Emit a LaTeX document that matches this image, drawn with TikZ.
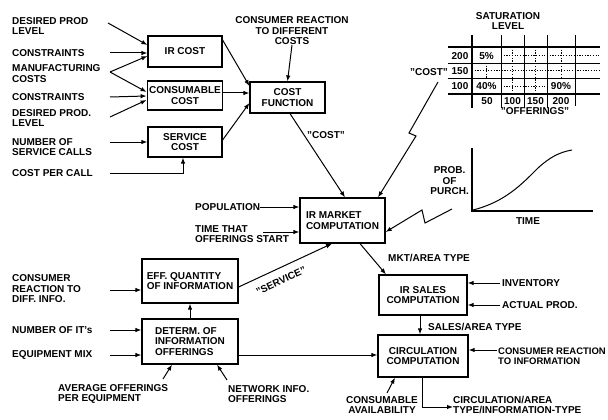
\documentclass[tikz,border=0pt]{standalone}
\usepackage{fontspec}
\setmainfont{Liberation Sans}
\usetikzlibrary{arrows.meta}
\begin{document}
\begin{tikzpicture}[x=1pt,y=-1pt,
  lbl/.style={font=\bfseries\fontsize{10}{10.5}\selectfont, inner sep=0pt, align=left},
  clbl/.style={lbl, align=center},
  box/.style={draw, line width=1.2pt, font=\bfseries\fontsize{10}{10.5}\selectfont, align=center, inner sep=2pt},
  lbox/.style={box, align=left},
  arr/.style={line width=1pt, -{Latex[length=6pt,width=4.5pt]}},
  ln/.style={line width=1pt},
  thick line/.style={line width=1.4pt},
  thin line/.style={line width=0.7pt},
  dots/.style={line width=0.6pt, dash pattern=on 1.2pt off 1.5pt}]
\useasboundingbox (0,0) rectangle (608,420);

% ---------- boxes ----------
\node[box, minimum width=74pt, minimum height=31pt] (ircost) at (185,51.5) {IR COST};
\node[box, minimum width=74pt, minimum height=29pt] (conscost) at (185,95.5) {CONSUMABLE\\COST};
\node[box, minimum width=74pt, minimum height=30pt] (servcost) at (185,142) {SERVICE\\COST};
\node[box, minimum width=75pt, minimum height=31pt] (costfn) at (287.5,97.5) {COST\\FUNCTION};
\node[lbox, minimum width=85pt, minimum height=45pt] (irmkt) at (342.5,220.5) {IR MARKET\\COMPUTATION};
\node[lbox, minimum width=96pt, minimum height=44pt] (effq) at (190,281) {EFF. QUANTITY\\OF INFORMATION};
\node[lbox, minimum width=96pt, minimum height=45pt] (determ) at (190,341.5) {DETERM. OF\\INFORMATION\\OFFERINGS};
\node[box, minimum width=88pt, minimum height=40pt] (irsales) at (423,295) {IR SALES\\COMPUTATION};
\node[box, minimum width=90pt, minimum height=42pt] (circ) at (423,356) {CIRCULATION\\COMPUTATION};

% ---------- input labels ----------
\node[lbl, anchor=west] (t1) at (12,26) {DESIRED PROD\\LEVEL};
\node[lbl, anchor=west] (t2) at (12,53) {CONSTRAINTS};
\node[lbl, anchor=west] (t3) at (12,73.5) {MANUFACTURING\\COSTS};
\node[lbl, anchor=west] (t4) at (12,97) {CONSTRAINTS};
\node[lbl, anchor=west] (t5) at (12,118) {DESIRED PROD.\\LEVEL};
\node[lbl, anchor=west] (t6) at (12,147) {NUMBER OF\\SERVICE CALLS};
\node[lbl, anchor=west] (t7) at (12,173) {COST PER CALL};
\node[clbl, anchor=south] (crc) at (292,45) {CONSUMER REACTION\\TO DIFFERENT\\COSTS};
\node[lbl, anchor=west] (pop) at (195,207) {POPULATION};
\node[lbl, anchor=west] (time) at (195,234) {TIME THAT\\OFFERINGS START};
\node[lbl, anchor=west] (cri) at (12,289) {CONSUMER\\REACTION TO\\DIFF. INFO.};
\node[lbl, anchor=west] (nit) at (12,330) {NUMBER OF IT's};
\node[lbl, anchor=west] (emix) at (12,355) {EQUIPMENT MIX};
\node[lbl, anchor=west] (avg) at (58,394) {AVERAGE OFFERINGS\\PER EQUIPMENT};
\node[lbl, anchor=west] (net) at (228,394) {NETWORK INFO.\\OFFERINGS};
\node[lbl, anchor=west] (mkt) at (388,258) {MKT/AREA TYPE};
\node[lbl, anchor=west] (inv) at (502,283) {INVENTORY};
\node[lbl, anchor=west] (act) at (502,305) {ACTUAL PROD.};
\node[lbl, anchor=west] (sales) at (428,327) {SALES/AREA TYPE};
\node[lbl, anchor=west, font=\bfseries\fontsize{9.5}{10.5}\selectfont] (crinfo) at (498,356) {CONSUMER REACTION\\TO INFORMATION};
\node[clbl] (cav) at (382,405) {CONSUMABLE\\AVAILABILITY};
\node[lbl, anchor=west] (out) at (453,405) {CIRCULATION/AREA\\TYPE/INFORMATION-TYPE};
\node[lbl] (costq) at (326,135) {"COST"};
\node[lbl, rotate=25] (servq) at (281,281) {"SERVICE"};

% ---------- start coordinates ----------
\coordinate (s1) at (108,23);
\coordinate (s2) at (110,53);
\coordinate (s3) at (110,72);
\coordinate (s4) at (110,97);
\coordinate (s5) at (110,117);
\coordinate (s6) at (110,142);
\coordinate (s7) at (110,173);
\coordinate (s8) at (263,232);
\coordinate (s9) at (110,290);
\coordinate (s10) at (110,330);
\coordinate (s11) at (110,355);
\coordinate (s12) at (163,379);
\coordinate (s13) at (227,380);
\coordinate (s14) at (500,283);
\coordinate (s15) at (500,305);
\coordinate (s16) at (497,350);
\coordinate (s17) at (387,393);
\coordinate (z1) at (438,82);
\coordinate (z2) at (452,209);

% ---------- connectors ----------
\draw[arr] (s1) -- (ircost.west |- 0,45);
\draw[arr] (s2) -- (ircost.west |- 0,53);
\draw[arr] (s3) -- (ircost.west |- 0,56);
\draw[arr] (s3) -- (conscost.west |- 0,92);
\draw[arr] (s4) -- (conscost.west |- 0,96);
\draw[arr] (s5) -- (conscost.west |- 0,100);
\draw[arr] (s6) -- (servcost.west |- 0,142);
\draw[arr] (s7) -| (servcost.south -| 183,0);

\draw[arr] (ircost.east |- 0,40) -- (costfn.west |- 0,86);
\draw[arr] (conscost.east |- 0,93) -- (costfn.west |- 0,93);
\draw[arr] (servcost.east |- 0,140) -- (costfn.west |- 0,103);
\draw[arr] (crc.south) -- (costfn.north);
\draw[arr] (costfn.south -| 290,0) -- (irmkt.north -| 345,0);

\draw[arr] (z1) -- (409,133) -- (416,136) -- (irmkt.north -| 378,0);
\draw[arr] (z2) -- (425,223) -- (422,210) -- (irmkt.east |- 0,232);

\draw[arr] (pop.east) -- (irmkt.west |- pop.east);
\draw[arr] (s8) -- (irmkt.west |- 0,232);
\draw[arr] (effq.east |- 0,287) -- (irmkt.south -| 332,0);

\draw[arr] (determ.north) -- (effq.south);
\draw[arr] (s9) -- (effq.west |- 0,290);
\draw[arr] (s10) -- (determ.west |- 0,330);
\draw[arr] (s11) -- (determ.west |- 0,355);
\draw[arr] (s12) -- (determ.south -| 172,0);
\draw[arr] (s13) -- (determ.south -| 217,0);
\draw[arr] (determ.east |- 0,355) -- (circ.west |- 0,355);

\draw[arr] (irmkt.south -| 360,0) -- (irsales.north -| 386,0);
\draw[arr] (s14) -- (irsales.east |- 0,283);
\draw[arr] (s15) -- (irsales.east |- 0,305);
\draw[arr] (irsales.south -| 420,0) -- (circ.north -| 420,0);
\draw[arr] (s16) -- (circ.east |- 0,350);
\draw[arr] (s17) -- (circ.south -| 395,0);
\draw[arr] (circ.south -| 422,0) |- (out.west |- 0,407);

% ---------- saturation table ----------
\node[clbl] (sat) at (508,21) {SATURATION\\LEVEL};
\draw[thick line] (472,35) -- (472,108);
\draw[thin line] (501,35) -- (501,108);
\draw[thin line] (524,35) -- (524,108);
\draw[thin line] (547,35) -- (547,108);
\draw[thin line] (575,35) -- (575,106);
\draw[thick line] (448,47) -- (600,47);
\draw[thin line] (448,63) -- (600,63);
\draw[thin line] (448,78) -- (600,78);
\draw[thick line] (448,94) -- (600,94);
\draw[dots] (501,55.5) -- (600,55.5);
\draw[dots] (472,70.5) -- (600,70.5);
\draw[dots] (501,86) -- (547,86);
\draw[dots] (512.5,47) -- (512.5,94);
\draw[dots] (535.5,47) -- (535.5,94);
\draw[dots] (561,47) -- (561,78);
\draw[dots] (486.5,63) -- (486.5,78);
\node[lbl] (r200) at (460,56) {200};
\node[lbl] (r150) at (460,71) {150};
\node[lbl] (r100) at (460,86) {100};
\node[lbl, fill=white, inner sep=1pt] (p5) at (486.5,56) {5\%};
\node[lbl, fill=white, inner sep=1pt] (p40) at (486.5,86) {40\%};
\node[lbl, fill=white, inner sep=1pt] (p90) at (561,86) {90\%};
\node[lbl] (c50) at (487,101) {50};
\node[lbl] (c100) at (512.5,101) {100};
\node[lbl] (c150) at (535.5,101) {150};
\node[lbl] (c200) at (561,101) {200};
\node[lbl] (costlbl) at (429,72) {"COST"};
\node[lbl] (offl) at (535,111) {"OFFERINGS"};

% ---------- probability graph ----------
\draw[thick line] (472,148) -- (472,211) -- (593,211);
\draw[ln] (473,210) .. controls (505,202) and (522,184) .. (538,168)
          .. controls (550,157) and (560,152) .. (572,150);
\node[clbl, anchor=east] (prob) at (469,181) {PROB.\\OF\\PURCH.};
\node[lbl] (timel) at (528,221) {TIME};
\end{tikzpicture}
\end{document}
